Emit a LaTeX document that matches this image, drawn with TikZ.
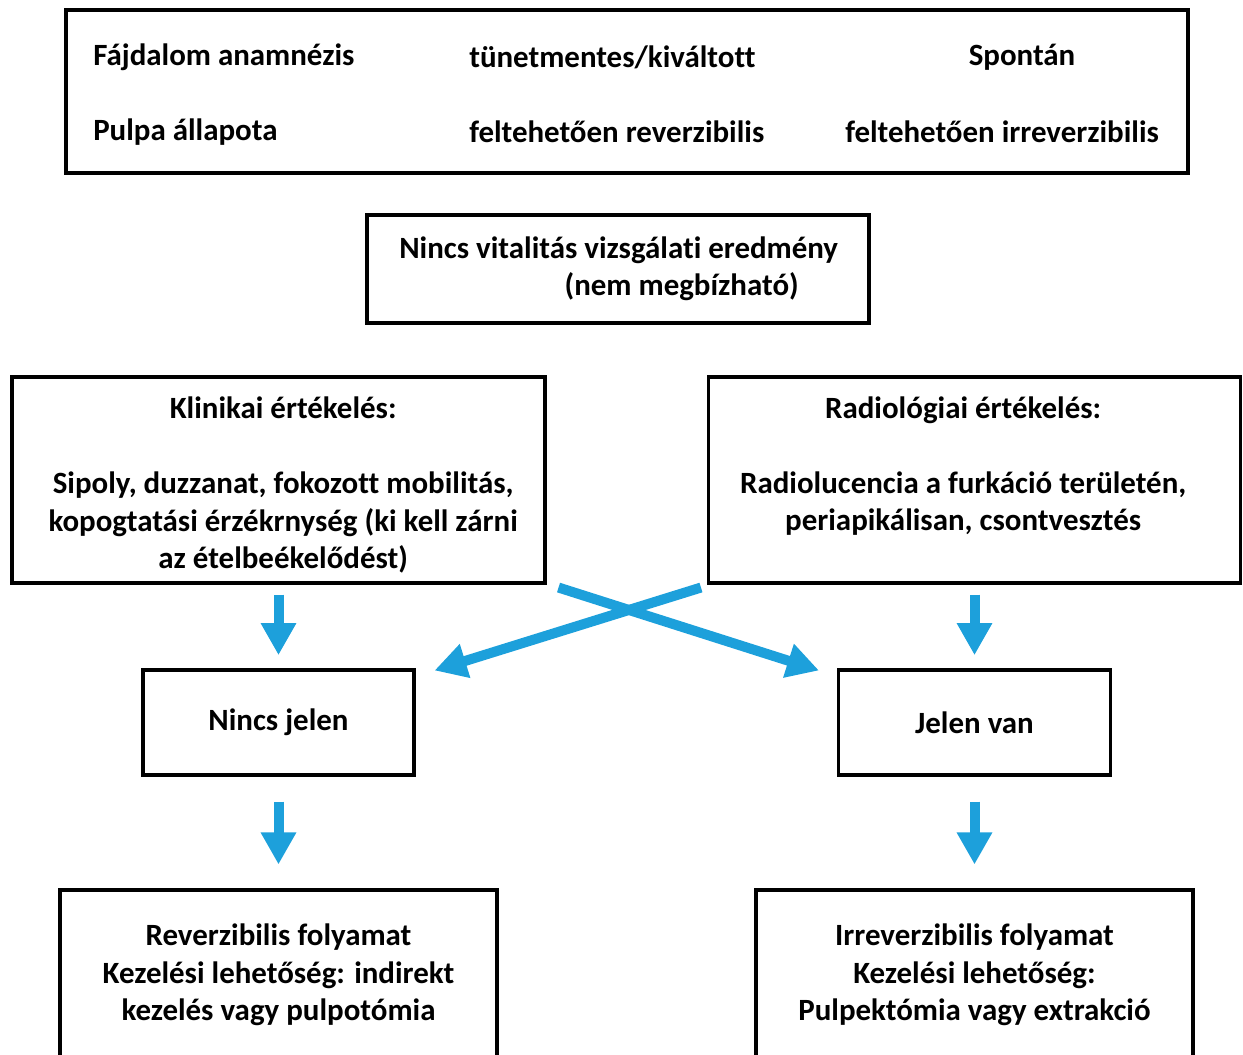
\documentclass[tikz,border=0pt]{standalone}
\usepackage{fontspec}
\setmainfont{Carlito}[Ligatures=NoCommon]
\usepackage{xcolor}
\usetikzlibrary{arrows.meta,positioning,calc}
\definecolor{arrblue}{RGB}{29,160,219}
\newcommand{\radline}[1]{\mbox{#1\kern17pt}}

\begin{document}
\begin{tikzpicture}[x=0.75pt,y=-0.75pt,
  every node/.style={font=\bfseries\fontsize{23.2}{28.1}\selectfont},
  box/.style={draw,line width=2.3pt,inner sep=0pt,align=center},
  cell/.style={inner sep=0pt},
  arr/.style={draw=arrblue,line width=7.5pt,-{Triangle[length=24pt,width=25pt]}}]
\useasboundingbox (0,0) rectangle (1243,1054);
\clip (0,0) rectangle (1243,1054);

% Top: table of pain history and pulp state
\node[box,minimum width=841.5pt,minimum height=122.25pt] (table) at (627,91.5) {};
\node[cell,anchor=west] (painlbl) at (93,57) {Fájdalom anamnézis};
\node[cell,anchor=west] (painrev) at (469,57) {tünetmentes/kiváltott};
\node[cell] (painirr) at (1022,57) {Spontán};
\node[cell,anchor=west] (pulplbl) at (93,132) {Pulpa állapota};
\node[cell,anchor=west] (pulprev) at (469,132) {feltehetően reverzibilis};
\node[cell,anchor=west] (pulpirr) at (845,132) {feltehetően irreverzibilis};

% No vitality result
\node[box,align=left,minimum width=376.5pt,minimum height=81pt] (novit) at (618,269)
  {\hspace*{1pt}Nincs vitalitás vizsgálati eredmény\\\hspace*{125pt}(nem megbízható)};

% Evaluations
\node[box,minimum width=399.75pt,minimum height=154.5pt] (klin) at (278.5,480)
  {\hspace*{7pt}\rule{0pt}{24pt}Klinikai értékelés:\\\mbox{}\\
   \hspace*{7pt}Sipoly, duzzanat, fokozott mobilitás,\\
   \hspace*{7pt}kopogtatási érzékrnység (ki kell zárni\\
   \hspace*{7pt}az ételbeékelődést)};
\node[box,minimum width=399pt,minimum height=154.5pt] (radio) at (974.5,480)
  {\rule{0pt}{20pt}\radline{Radiológiai értékelés:}\\\mbox{}\\
   \radline{Radiolucencia a furkáció területén,}\\
   \radline{periapikálisan, csontvesztés}\\\mbox{}};

% Findings
\node[box,minimum width=203.25pt,minimum height=78.75pt] (nincs) at (278.5,722.5) {Nincs jelen};
\node[box,minimum width=204pt,minimum height=78.75pt] (jelen) at (974.5,722.5) {Jelen van};

% Outcomes
\node[box,minimum width=327.75pt,minimum height=127.5pt] (revbox) at (278.5,975)
  {Reverzibilis folyamat\\Kezelési lehetőség: indirekt\\kezelés vagy pulpotómia};
\node[box,minimum width=327.75pt,minimum height=127.5pt] (irrbox) at (974.5,975)
  {Irreverzibilis folyamat\\Kezelési lehetőség:\\Pulpektómia vagy extrakció};

% Arrows
\draw[arr] ([yshift=-7.5pt]klin.south) -- ([yshift=10pt]nincs.north);
\draw[arr] ([yshift=-7.5pt]radio.south) -- ([yshift=10pt]jelen.north);
\coordinate (xl) at ([xshift=9pt,yshift=-2.25pt]klin.south east);
\coordinate (xr) at ([xshift=-4.5pt,yshift=-2.25pt]radio.south west);
\draw[arr] (xl) -- ([xshift=-13.5pt,yshift=-1.5pt]jelen.north west);
\draw[arr] (xr) -- ([xshift=14.25pt,yshift=-1.5pt]nincs.north east);
\draw[arr] ([yshift=-18.75pt]nincs.south) -- ([yshift=18pt]revbox.north);
\draw[arr] ([yshift=-18.75pt]jelen.south) -- ([yshift=18pt]irrbox.north);
\end{tikzpicture}
\end{document}
